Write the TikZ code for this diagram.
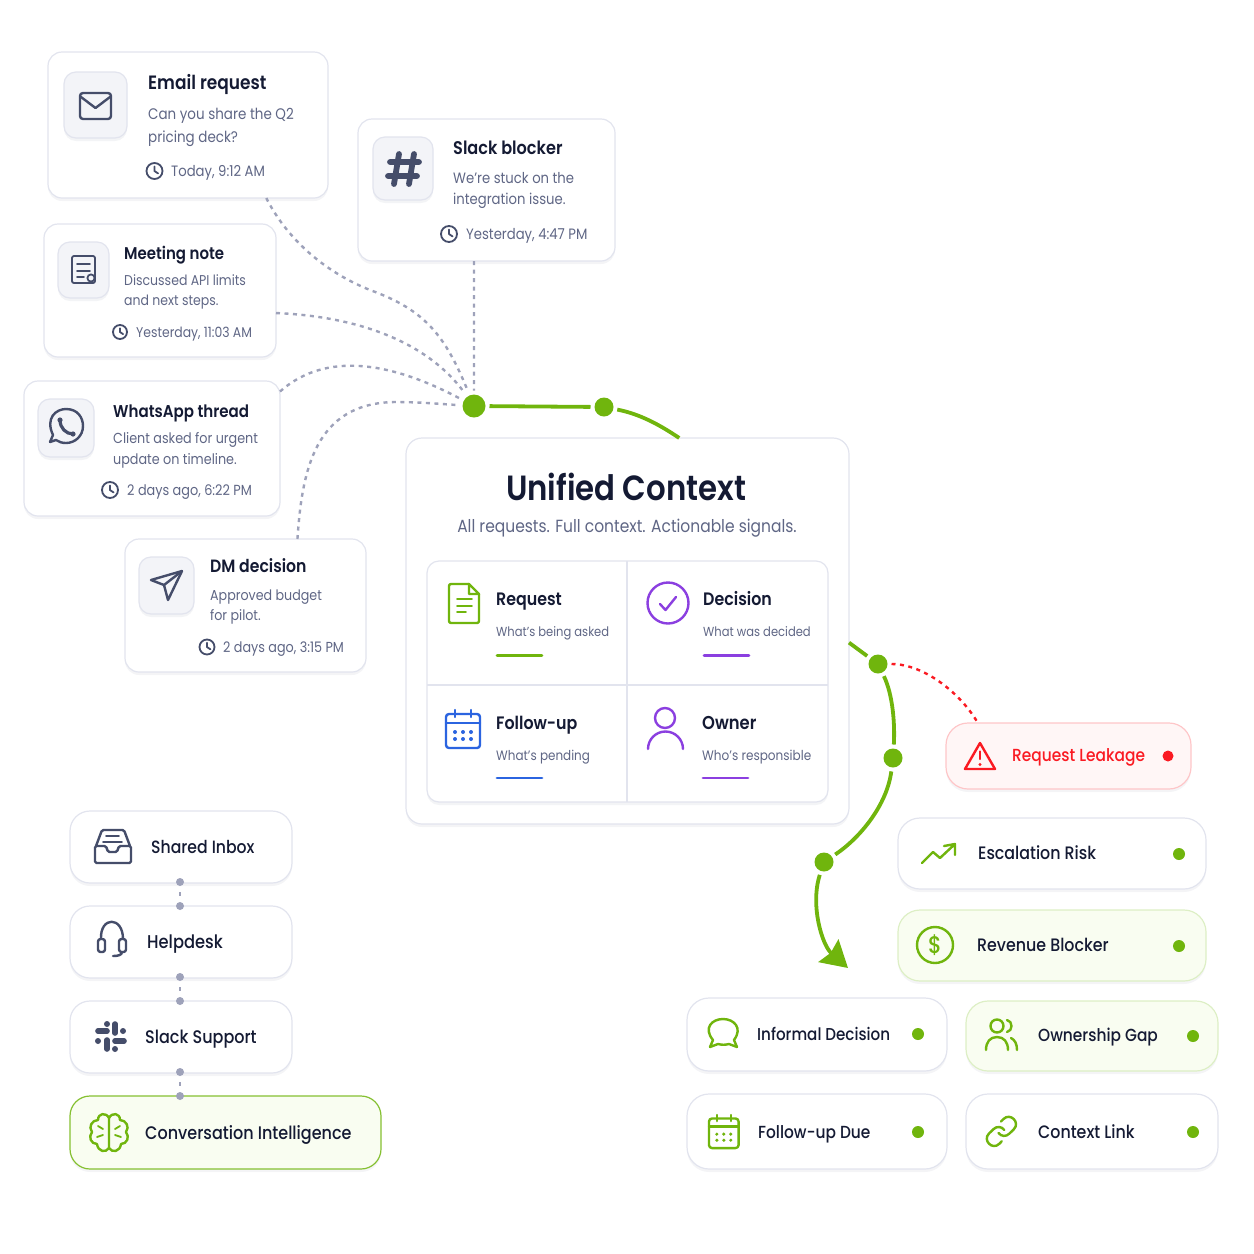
\documentclass[tikz,border=0pt]{standalone}
\usepackage{fontspec}
\setmainfont[FakeStretch=0.88]{Poppins}
\newfontfamily\titlefont[FakeStretch=0.88]{Poppins Medium}
\newfontfamily\strongfont[FakeStretch=0.88]{Poppins SemiBold}
\usetikzlibrary{arrows.meta,shadows}

\definecolor{ink}{HTML}{141A33}
\definecolor{slate}{HTML}{5F6685}
\definecolor{iconink}{HTML}{454D6A}
\definecolor{rim}{HTML}{E2E4EE}
\definecolor{tile}{HTML}{F3F4F8}
\definecolor{wire}{HTML}{9EA2BA}
\definecolor{leaf}{HTML}{70B50D}
\definecolor{violet}{HTML}{8B3FE0}
\definecolor{cobalt}{HTML}{2B64E0}
\definecolor{alert}{HTML}{FA1A22}
\definecolor{leafwash}{HTML}{F9FDF1}
\definecolor{leafedge}{HTML}{DDEFC5}

\newcommand{\fs}[1]{\fontsize{#1}{#1}\selectfont}

\tikzset{
	card/.style={draw=rim, line width=1.2pt, fill=white, rounded corners=14pt, inner sep=0pt, outer sep=0pt,
		drop shadow={shadow xshift=0pt, shadow yshift=-3pt, opacity=.07, fill=slate}},
	pill/.style={card, rounded corners=22pt},
	leafpill/.style={pill, fill=leafwash, draw=leafedge},
	tilebox/.style={card, fill=tile, rounded corners=12pt, drop shadow={opacity=0}},
	cardhead/.style={anchor=west, inner sep=0pt, text=ink, text height=1.35em, text depth=.2em, font=\strongfont\fs{#1}},
	chiptext/.style={anchor=west, inner sep=0pt, text=ink, text height=1.35em, text depth=.2em, font=\titlefont\fs{#1}},
	cardbody/.style={anchor=west, inner sep=0pt, text=slate, text height=1.35em, text depth=.2em, font=\fs{#1}},
	icon/.style={line width=2.4pt, line cap=round, line join=round},
	thin icon/.style={line width=1.8pt, line cap=round, line join=round},
	dotnode/.style={circle, fill=#1, inner sep=0pt, outer sep=0pt},
	feeder/.style={draw=wire, line width=2.4pt, dash pattern=on 4pt off 4.5pt, shorten >=4pt},
	pipe/.style={draw=leaf, line width=3.8pt, shorten >=4pt, shorten <=4pt},
	leakwire/.style={draw=alert, line width=2.4pt, dash pattern=on 4pt off 4.5pt, shorten <=4pt},
	stepwire/.style={draw=wire, line width=2.4pt, dash pattern=on 4pt off 4pt, shorten >=6pt, shorten <=6pt}
}

% a box given by its corners
\newcommand{\panel}[6]{
	\node[#1, minimum width={(#5-#3)*1pt}, minimum height={(#6-#4)*1pt}] (#2) at ({(#3+#5)/2},{(#4+#6)/2}) {};
}
% the clock in front of a time stamp
\newcommand{\clockicon}[3]{
	\draw[thin icon, draw=iconink] (#1,#2) circle (#3);
	\draw[thin icon, draw=iconink] (#1,#2-0.55*#3) -- (#1,#2) -- (#1+0.45*#3,#2+0.3*#3);
}
% the calendar, drawn at its left top corner
\newcommand{\calendaricon}[4]{
	\begin{scope}[shift={(#1,#2)}, scale=#3, icon, draw=#4, fill=#4]
		\draw[rounded corners=3pt, fill=none] (0,4) rectangle (34,38);
		\draw (0,13) -- (34,13);
		\draw (9,0) -- (9,7);
		\draw (25,0) -- (25,7);
		\fill (9,22) circle (2) (17,22) circle (2) (25,22) circle (2);
		\fill (9,29) circle (2) (17,29) circle (2) (25,29) circle (2);
	\end{scope}
}

\begin{document}
\begin{tikzpicture}[x=1pt, y=-1pt]
	\useasboundingbox (0,0) rectangle (1254,1254);

	% the source cards
	\panel{card}{email}{48}{52}{328}{198}
	\panel{tilebox}{emailtile}{64}{72}{127}{138}
	\draw[icon, draw=iconink, rounded corners=3pt] (80,93) rectangle (111,119);
	\draw[icon, draw=iconink] (81,97) -- (95.5,108) -- (110,97);
	\node[cardhead=19.3] (emailhead) at (148,84) {Email request};
	\node[cardbody=15.3] (emailone) at (148,114) {Can you share the Q2};
	\node[cardbody=15.3] (emailtwo) at (148,137) {pricing deck?};
	\clockicon{154.5}{171}{8}
	\node[cardbody=15] (emailtime) at (171,171) {Today, 9:12 AM};

	\panel{card}{slack}{358}{119}{615}{261}
	\panel{tilebox}{slacktile}{373}{137}{433}{200}
	\draw[line width=5.8pt, draw=iconink, line cap=round] (399,154) -- (394,184) (414,154) -- (409,184) (390,162) -- (419,162) (388,176) -- (417,176);
	\node[cardhead=18.3] (slackhead) at (453,149) {Slack blocker};
	\node[cardbody=15] (slackone) at (453,178) {We're stuck on the};
	\node[cardbody=15] (slacktwo) at (453,199) {integration issue.};
	\clockicon{449}{234}{8}
	\node[cardbody=15] (slacktime) at (466,234) {Yesterday, 4:47 PM};

	\panel{card}{meeting}{44}{224}{276}{357}
	\panel{tilebox}{meetingtile}{58}{242}{109}{298}
	\draw[thin icon, draw=iconink, rounded corners=2pt] (72,256) rectangle (95,283);
	\draw[thin icon, draw=iconink] (77,264) -- (90,264) (77,271) -- (90,271) (77,277) -- (84,277);
	\draw[thin icon, draw=iconink, fill=tile] (91,278) circle (3.6);
	\node[cardhead=17] (meetinghead) at (124,254) {Meeting note};
	\node[cardbody=14.2] (meetingone) at (124,280) {Discussed API limits};
	\node[cardbody=14.2] (meetingtwo) at (124,300) {and next steps.};
	\clockicon{120}{332}{7}
	\node[cardbody=14.1] (meetingtime) at (136,332) {Yesterday, 11:03 AM};

	\panel{card}{whatsapp}{24}{381}{280}{516}
	\panel{tilebox}{whatsapptile}{38}{399}{94}{457}
	\draw[icon, draw=iconink] (53,435) .. controls (45,418) and (56,409) .. (66,409) .. controls (78,409) and (83,418) .. (83,426) .. controls (83,436) and (75,443) .. (66,443) .. controls (62,443) and (59,442) .. (56,440) -- (50,442) -- (53,435);
	\draw[line width=3.2pt, draw=iconink, line cap=round] (60,420) .. controls (60,428) and (66,434) .. (73,434);
	\fill[iconink] (60,420) circle (2.6) (73,434) circle (2.6);
	\node[cardhead=17.1] (whatsapphead) at (113,412) {WhatsApp thread};
	\node[cardbody=14.5] (whatsappone) at (113,438) {Client asked for urgent};
	\node[cardbody=14.5] (whatsapptwo) at (113,459) {update on timeline.};
	\clockicon{110}{490}{8}
	\node[cardbody=14.6] (whatsapptime) at (127,490) {2 days ago, 6:22 PM};

	\panel{card}{dm}{125}{539}{366}{672}
	\panel{tilebox}{dmtile}{139}{557}{194}{614}
	\draw[icon, draw=iconink] (182,571) -- (151,580) -- (164,585) -- (168,600) -- cycle;
	\draw[icon, draw=iconink] (164,585) -- (182,571);
	\node[cardhead=17.8] (dmhead) at (210,567) {DM decision};
	\node[cardbody=14.4] (dmone) at (210,595) {Approved budget};
	\node[cardbody=14.4] (dmtwo) at (210,615) {for pilot.};
	\clockicon{207}{647}{7.5}
	\node[cardbody=14.5] (dmtime) at (223,647) {2 days ago, 3:15 PM};

	% the middle panel
	\panel{card, rounded corners=16pt}{main}{406}{438}{849}{824}
	\node[text=ink, inner sep=0pt, font=\strongfont\fs{35}] (maintitle) at (626,487) {Unified Context};
	\node[text=slate, inner sep=0pt, font=\fs{17.6}] (mainsub) at (627,528) {All requests. Full context. Actionable signals.};
	\panel{card, rounded corners=12pt, drop shadow={opacity=0}}{grid}{427}{561}{828}{802}
	\draw[draw=rim, line width=1.2pt] (627,561) -- (627,802) (427,685) -- (828,685);

	\draw[icon, draw=leaf, rounded corners=2pt] (469,584) -- (449,584) -- (449,623) -- (479,623) -- (479,594);
	\draw[icon, draw=leaf] (469,584) -- (479,594) -- (469,594) -- cycle;
	\draw[thin icon, draw=leaf] (457,599) -- (472,599) (457,606) -- (472,606) (457,612) -- (466,612);
	\node[cardhead=18] (requesthead) at (496,600) {Request};
	\node[cardbody=13.1] (requestsub) at (496,631) {What's being asked};
	\draw[line width=2.8pt, draw=leaf, line cap=round] (497,655.5) -- (542,655.5);

	\draw[icon, draw=violet] (668,603) circle (20.5);
	\draw[icon, draw=violet] (660,604) -- (665.5,610) -- (676,597);
	\node[cardhead=18] (decisionhead) at (703,600) {Decision};
	\node[cardbody=13.1] (decisionsub) at (703,631) {What was decided};
	\draw[line width=2.8pt, draw=violet, line cap=round] (704,655.5) -- (749,655.5);

	\calendaricon{446}{710}{1}{cobalt}
	\node[cardhead=18] (followhead) at (496,724) {Follow-up};
	\node[cardbody=13.6] (followsub) at (496,755) {What's pending};
	\draw[line width=2.8pt, draw=cobalt, line cap=round] (497,778) -- (542,778);

	\draw[icon, draw=violet] (665,718) circle (10);
	\draw[icon, draw=violet] (648,749) arc[start angle=180, end angle=360, radius=17.5];
	\node[cardhead=18.6] (ownerhead) at (702,724) {Owner};
	\node[cardbody=13.7] (ownersub) at (702,755) {Who's responsible};
	\draw[line width=2.8pt, draw=violet, line cap=round] (703,778) -- (748,778);

	% the signals on the right
	\panel{pill, fill=alert!4, draw=alert!25}{leak}{946}{723}{1191}{789}
	\draw[icon, draw=alert] (980,743) -- (965,769) -- (995,769) -- cycle;
	\draw[icon, draw=alert] (980,751.5) -- (980,759);
	\fill[alert] (980,764.5) circle (1.6);
	\node[chiptext=17.5, text=alert] (leakname) at (1012,756) {Request Leakage};
	\node[dotnode=alert, minimum size=11pt] (leakdot) at (1168,756) {};

	\panel{pill}{risk}{898}{818}{1206}{889}
	\draw[icon, draw=leaf] (922,863) -- (933,852) -- (940,858) -- (955,844) (944,846) -- (955,844) -- (955,855);
	\node[chiptext=18] (riskname) at (978,854) {Escalation Risk};
	\node[dotnode=leaf, minimum size=12pt] (riskdot) at (1179,854) {};

	\panel{leafpill}{revenue}{898}{910}{1206}{981}
	\draw[icon, draw=leaf] (935,945) circle (18);
	\node[text=leaf, inner sep=0pt, font=\titlefont\fs{24}] (revenueglyph) at (935,945) {\$};
	\node[chiptext=18] (revenuename) at (977,946) {Revenue Blocker};
	\node[dotnode=leaf, minimum size=12pt] (revenuedot) at (1179,946) {};

	\panel{pill}{informal}{687}{998}{947}{1071}
	\draw[icon, draw=leaf] (713,1040) .. controls (703,1028) and (712,1019) .. (723,1019) .. controls (734,1019) and (743,1028) .. (734,1040) -- (737,1047) -- (729,1044) .. controls (725,1045) and (722,1045) .. (718,1044) -- (710,1047) -- cycle;
	\node[chiptext=17.2] (informalname) at (757,1035) {Informal Decision};
	\node[dotnode=leaf, minimum size=12pt] (informaldot) at (918,1034) {};

	\panel{leafpill}{ownership}{966}{1001}{1218}{1071}
	\draw[icon, draw=leaf] (997,1026) circle (6.5);
	\draw[icon, draw=leaf] (986,1050) .. controls (986,1042) and (990,1037) .. (997,1037) .. controls (1004,1037) and (1008,1042) .. (1008,1050);
	\draw[icon, draw=leaf] (1007,1020) .. controls (1013,1021) and (1013,1031) .. (1007,1032);
	\draw[icon, draw=leaf] (1011,1038) .. controls (1015,1040) and (1017,1044) .. (1017,1050);
	\node[chiptext=17.5] (ownershipname) at (1038,1036) {Ownership Gap};
	\node[dotnode=leaf, minimum size=12pt] (ownershipdot) at (1193,1036) {};

	\panel{pill}{due}{687}{1094}{947}{1169}
	\calendaricon{709}{1115}{.87}{leaf}
	\node[chiptext=17.5] (duename) at (758,1133) {Follow-up Due};
	\node[dotnode=leaf, minimum size=12pt] (duedot) at (918,1132) {};

	\panel{pill}{context}{966}{1094}{1218}{1169}
	\draw[icon, draw=leaf] (998.5,1132.9) .. controls (1001,1136.5) and (1006,1137) .. (1009.4,1133.6) -- (1013.8,1129.3) .. controls (1020.6,1122.5) and (1010.3,1112.2) .. (1003.5,1119) -- (1001,1121.5);
	\draw[icon, draw=leaf] (1004.3,1130) .. controls (1001.8,1126.4) and (996.8,1125.8) .. (993.4,1129.2) -- (989,1133.5) .. controls (982.2,1140.3) and (992.5,1150.6) .. (999.3,1143.8) -- (1001.7,1141.3);
	\node[chiptext=18] (contextname) at (1038,1133) {Context Link};
	\node[dotnode=leaf, minimum size=12pt] (contextdot) at (1193,1132) {};

	% the stack on the left
	\panel{pill, rounded corners=20pt}{inbox}{70}{811}{292}{883}
	\draw[icon, draw=iconink, rounded corners=1.5pt] (95,846) -- (95,863) -- (131,863) -- (131,846) -- (119,846) -- (117,852) -- (108,852) -- (106,846) -- cycle;
	\draw[icon, draw=iconink, rounded corners=1.5pt] (96,846) -- (102,830) -- (124,830) -- (130,846);
	\draw[thin icon, draw=iconink] (106,836) -- (119,836) (103,842) -- (122,842);
	\node[chiptext=17.8] (inboxname) at (151,848) {Shared Inbox};

	\panel{pill, rounded corners=20pt}{helpdesk}{70}{906}{292}{978}
	\draw[icon, draw=iconink] (101,939) .. controls (100,916) and (123,916) .. (123,939);
	\draw[icon, draw=iconink, rounded corners=2.5pt] (98,939) rectangle (105,952) (119,939) rectangle (126,952);
	\draw[icon, draw=iconink] (122,952) .. controls (122,955) and (118,956) .. (113,956);
	\node[chiptext=18.5] (helpdeskname) at (147,943) {Helpdesk};

	\panel{pill, rounded corners=20pt}{support}{70}{1001}{292}{1073}
	\draw[line width=5.6pt, draw=iconink, line cap=round] (98,1031) -- (107,1031) (115,1024) -- (115,1033) (115,1041) -- (124,1041) (107,1040) -- (107,1049);
	\fill[iconink] (107,1024) circle (3) (123,1031) circle (3) (115,1049) circle (3) (98,1041) circle (3);
	\node[chiptext=18.2] (supportname) at (145,1038) {Slack Support};

	\panel{pill, rounded corners=20pt, fill=leafwash, draw=leaf!85}{intel}{70}{1096}{381}{1169}
	\draw[icon, draw=leaf] (109,1118) .. controls (106,1112) and (98,1113) .. (98,1120) .. controls (92,1120) and (88,1127) .. (92,1132) .. controls (88,1137) and (91,1144) .. (97,1144) .. controls (98,1152) and (106,1153) .. (109,1148) -- (109,1118);
	\draw[icon, draw=leaf] (109,1118) .. controls (112,1112) and (120,1113) .. (120,1120) .. controls (126,1120) and (130,1127) .. (126,1132) .. controls (130,1137) and (127,1144) .. (121,1144) .. controls (120,1152) and (112,1153) .. (109,1148);
	\draw[thin icon, draw=leaf] (98,1126) -- (103,1129) (97,1137) -- (103,1135) (120,1126) -- (115,1129) (121,1137) -- (115,1135);
	\node[chiptext=18.2] (intelname) at (145,1134) {Conversation Intelligence};

	% the small dots between the stack
	\node[dotnode=wire, minimum size=8pt] (inboxlow) at (180,882) {};
	\node[dotnode=wire, minimum size=8pt] (helpdesktop) at (180,906) {};
	\node[dotnode=wire, minimum size=8pt] (helpdesklow) at (180,977) {};
	\node[dotnode=wire, minimum size=8pt] (supporttop) at (180,1001) {};
	\node[dotnode=wire, minimum size=8pt] (supportlow) at (180,1072) {};
	\node[dotnode=wire, minimum size=8pt] (inteltop) at (180,1096) {};
	\draw[stepwire] (inboxlow) -- (helpdesktop);
	\draw[stepwire] (helpdesklow) -- (supporttop);
	\draw[stepwire] (supportlow) -- (inteltop);

	% the green route
	\node[dotnode=leaf, minimum size=23pt] (hub) at (474,406) {};
	\node[dotnode=leaf, minimum size=19pt] (relay) at (604,407) {};
	\node[dotnode=leaf, minimum size=19pt] (forkdot) at (878,664) {};
	\node[dotnode=leaf, minimum size=19pt] (middot) at (893,758) {};
	\node[dotnode=leaf, minimum size=19pt] (lastdot) at (824,862) {};
	\coordinate (tip) at (848,968);

	% feeders into the hub
	\draw[feeder] (email.-43) .. controls (285,235) and (320,270) .. (370,290) .. controls (425,310) and (445,335) .. (hub);
	\draw[feeder] (slack.-100) -- (hub);
	\draw[feeder] (meeting.-11) .. controls (350,316) and (425,338) .. (hub);
	\draw[feeder] (whatsapp.24) .. controls (320,356) and (380,356) .. (hub);
	\draw[feeder] (dm.52) .. controls (302,470) and (315,403) .. (395,402) .. controls (420,402) and (440,404) .. (hub);

	% route through the panel
	\draw[pipe] (hub) -- (relay);
	\draw[pipe, shorten >=0pt] (relay) .. controls (640,414) and (660,425) .. (main.75.5);
	\draw[pipe, shorten <=0pt] (main.-3) -- (forkdot);
	\draw[pipe] (forkdot) .. controls (893,695) and (895,725) .. (middot);
	\draw[pipe] (middot) .. controls (887,805) and (860,838) .. (lastdot);
	\draw[pipe, shorten >=0pt, -{Stealth[length=26pt, width=30pt, inset=3pt]}] (lastdot) .. controls (810,905) and (822,945) .. (tip);
	\draw[leakwire] (forkdot) .. controls (925,664) and (962,695) .. (leak.160.5);
\end{tikzpicture}
\end{document}
